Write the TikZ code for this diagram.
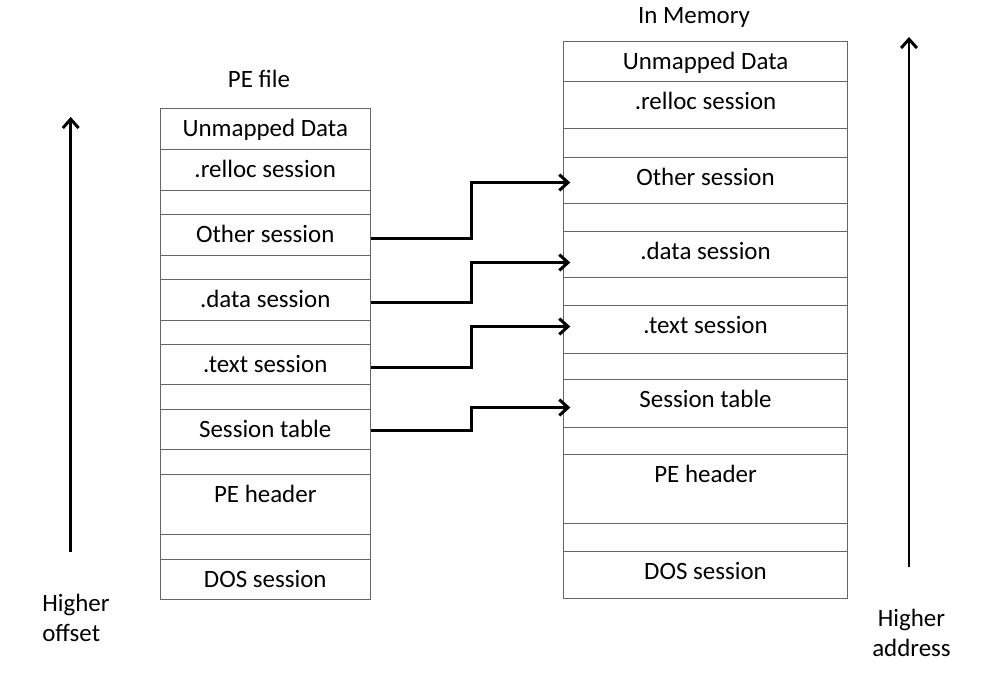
\documentclass[tikz,border=0pt]{standalone}
\usepackage{fontspec}
\setmainfont{Carlito}
\usepackage{tikz}
\usetikzlibrary{arrows.meta}

\tikzset{
    cell/.style={draw=black!60, line width=0.6pt, inner sep=0pt, anchor=north west, text height=0.56cm, text depth=#1},
    gap/.style={cell=#1, text height=0pt},
    fcol/.style={minimum width=4.21cm},
    mcol/.style={minimum width=5.67cm},
    link/.style={line width=1.7pt, -{Straight Barb[length=5pt,width=9pt]}}
}

\begin{document}
\begin{tikzpicture}[x=0.02cm, y=-0.02cm, font=\fontsize{14.2pt}{17pt}\selectfont]
            \useasboundingbox (0, 0) rectangle (985, 675);
            \node[anchor=base] (pefile) at (259, 88) {PE file};
            \node[cell=0.26cm, fcol] (funmapped) at (159.5, 108) {Unmapped Data};
            \node[cell=0.26cm, fcol] (freloc) at (159.5, 149) {.relloc session};
            \node[gap=0.48cm, fcol] (fgapa) at (159.5, 190) {};
            \node[cell=0.26cm, fcol] (fother) at (159.5, 214) {Other session};
            \node[gap=0.48cm, fcol] (fgapb) at (159.5, 255) {};
            \node[cell=0.26cm, fcol] (fdata) at (159.5, 279) {.data session};
            \node[gap=0.48cm, fcol] (fgapc) at (159.5, 320) {};
            \node[cell=0.24cm, fcol] (ftext) at (159.5, 344) {.text session};
            \node[gap=0.50cm, fcol] (fgapd) at (159.5, 384) {};
            \node[cell=0.24cm, fcol] (ftable) at (159.5, 409) {Session table};
            \node[gap=0.50cm, fcol] (fgape) at (159.5, 449) {};
            \node[cell=0.64cm, fcol] (fheader) at (159.5, 474) {PE header};
            \node[gap=0.50cm, fcol] (fgapf) at (159.5, 534) {};
            \node[cell=0.24cm, fcol] (fdos) at (159.5, 559) {DOS session};

            \node[anchor=base] (inmem) at (694, 24) {In Memory};
            \node[cell=0.24cm, mcol] (munmapped) at (563.3, 41) {Unmapped Data};
            \node[cell=0.38cm, mcol] (mreloc) at (563.3, 81) {.relloc session};
            \node[gap=0.58cm, mcol] (mgapa) at (563.3, 128) {};
            \node[cell=0.36cm, mcol] (mother) at (563.3, 157) {Other session};
            \node[gap=0.56cm, mcol] (mgapb) at (563.3, 203) {};
            \node[cell=0.36cm, mcol] (mdata) at (563.3, 231) {.data session};
            \node[gap=0.56cm, mcol] (mgapc) at (563.3, 277) {};
            \node[cell=0.40cm, mcol] (mtext) at (563.3, 305) {.text session};
            \node[gap=0.52cm, mcol] (mgapd) at (563.3, 353) {};
            \node[cell=0.40cm, mcol] (mtable) at (563.3, 379) {Session table};
            \node[gap=0.54cm, mcol] (mgape) at (563.3, 427) {};
            \node[cell=0.82cm, mcol] (mheader) at (563.3, 454) {PE header};
            \node[gap=0.56cm, mcol] (mgapf) at (563.3, 523) {};
            \node[cell=0.38cm, mcol] (mdos) at (563.3, 551) {DOS session};

	    \draw[link] ([yshift=-0.07cm]fother.east) -- ++(100, 0) |- ([xshift=0.14cm, yshift=-0.04cm]mother.west);
	    \draw[link] ([yshift=-0.05cm]fdata.east) -- ++(100, 0) |- ([xshift=0.14cm, yshift=-0.16cm]mdata.west);
	    \draw[link] ([yshift=-0.06cm]ftext.east) -- ++(100, 0) |- ([xshift=0.14cm, yshift=0.06cm]mtext.west);
	    \draw[link] ([yshift=-0.02cm]ftable.east) -- ++(100, 0) |- ([xshift=0.14cm, yshift=-0.08cm]mtable.west);

            \draw[link] (70.7, 551.7) coordinate(lbot) -- (70.7, 117) coordinate(ltop);
            \node[anchor=base west, align=left, inner sep=0pt] (offset) at (42, 641.7) {Higher\\offset};
            \draw[link] (909, 566.7) coordinate(rbot) -- (909, 37) coordinate(rtop);
            \node[anchor=base, align=center, inner sep=0pt] (address) at (911.5, 656.7) {Higher\\address};
        \end{tikzpicture}
\end{document}
